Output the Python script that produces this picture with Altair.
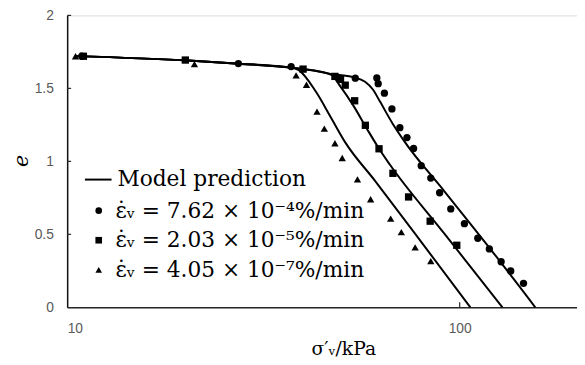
import altair as alt
import pandas as pd

# ---------------- data ----------------
circle_x = [10.9, 27.3, 37.2, 54.2, 61.5, 62.0, 64.3, 67.2, 70.4, 73.4, 76.3, 79.8, 84.4,
            88.9, 94.9, 102.8, 111.2, 119.0, 127.5, 134.9, 145.4]
circle_e = [1.72, 1.67, 1.649, 1.57, 1.571, 1.532, 1.467, 1.359, 1.231, 1.163, 1.088, 0.970,
            0.885, 0.785, 0.674, 0.573, 0.473, 0.400, 0.312, 0.249, 0.164]

square_x = [11.0, 20.0, 39.9, 48.1, 49.7, 51.1, 54.0, 57.5, 62.3, 67.6, 74.1, 84.1, 98.3]
square_e = [1.72, 1.694, 1.632, 1.582, 1.562, 1.522, 1.415, 1.247, 1.086, 0.918, 0.756, 0.590, 0.425]

triangle_x = [10.5, 21.1, 38.3, 40.7, 43.3, 45.2, 48.1, 50.2, 54.9, 59.3, 66.7, 71.0, 77.0, 84.4]
triangle_e = [1.72, 1.666, 1.589, 1.525, 1.341, 1.224, 1.124, 1.023, 0.876, 0.740, 0.607, 0.515,
              0.410, 0.316]

model_low_x = [10.5, 19.9, 27.4, 37.2, 38.9, 43.0, 46.9, 51.1, 60.8, 81.2, 106.4]
model_low_e = [1.721, 1.692, 1.669, 1.642, 1.625, 1.478, 1.304, 1.130, 0.868, 0.421, 0.0]

model_mid_x = [10.5, 19.9, 27.4, 37.2, 42.5, 47.1, 49.7, 53.5, 58.0, 62.2, 66.3, 91.2, 128.5]
model_mid_e = [1.721, 1.692, 1.669, 1.642, 1.622, 1.592, 1.512, 1.385, 1.224, 1.090, 0.980,
               0.508, 0.0]

model_high_x = [10.5, 19.9, 27.4, 37.2, 42.5, 46.9, 53.5, 57.4, 60.1, 62.6, 67.5, 72.3, 91.2,
                121.7, 155.8]
model_high_e = [1.721, 1.692, 1.669, 1.642, 1.622, 1.599, 1.577, 1.545, 1.492, 1.411, 1.258,
                1.137, 0.798, 0.375, 0.0]

model_label = ["Model prediction"]
series_labels = [
    "ε̇ᵥ = 7.62 × 10⁻⁴%/min",
    "ε̇ᵥ = 2.03 × 10⁻⁵%/min",
    "ε̇ᵥ = 4.05 × 10⁻⁷%/min",
]
series_shapes = ["circle", "square", "triangle-up"]

x_tick_values = [10, 100]
y_tick_values = [0, 0.5, 1, 1.5, 2]
x_domain = [10, 199]
y_domain = [0, 2]

# ---------------- tables ----------------
pts = pd.concat([
    pd.DataFrame({"x": circle_x, "e": circle_e, "series": series_labels[0]}),
    pd.DataFrame({"x": square_x, "e": square_e, "series": series_labels[1]}),
    pd.DataFrame({"x": triangle_x, "e": triangle_e, "series": series_labels[2]}),
], ignore_index=True)

model = pd.concat([
    pd.DataFrame({"x": model_low_x, "e": model_low_e, "curve": "low"}),
    pd.DataFrame({"x": model_mid_x, "e": model_mid_e, "curve": "mid"}),
    pd.DataFrame({"x": model_high_x, "e": model_high_e, "curve": "high"}),
], ignore_index=True)
model["kind"] = model_label[0]

W, H = 517, 296

xscale = alt.Scale(type="log", domain=x_domain, nice=False)
yscale = alt.Scale(domain=y_domain, nice=False, zero=False)

xaxis = alt.Axis(values=x_tick_values, format="~g", ticks=False, grid=False,
                 domainColor="#262626", domainWidth=1.5,
                 labelFont="Liberation Sans", labelFontSize=14, labelColor="#595959",
                 labelPadding=15,
                 title="σ′ᵥ/kPa", titleFont="DejaVu Serif", titleFontSize=19,
                 titleFontWeight="normal", titleColor="black",
                 titleX=280, titleY=33)
yaxis = alt.Axis(values=y_tick_values, format="~g", ticks=False, grid=False,
                 domainColor="#111111", domainWidth=1.5,
                 labelFont="Liberation Sans", labelFontSize=14, labelColor="#595959",
                 labelPadding=14,
                 title="e", titleFont="DejaVu Serif", titleFontSize=21,
                 titleFontStyle="italic", titleFontWeight="normal", titleColor="black",
                 titleAngle=270, titleBaseline="middle", titleAlign="center",
                 titleX=-46, titleY=147)

legend_common = dict(title=None, orient="none", labelFont="DejaVu Serif", labelFontSize=22,
                     labelColor="black", labelLimit=0, padding=0)

lines = alt.Chart(model).mark_line(strokeWidth=2, interpolate="monotone").encode(
    x=alt.X("x:Q", scale=xscale, axis=xaxis),
    y=alt.Y("e:Q", scale=yscale, axis=yaxis),
    detail="curve:N",
    color=alt.Color("kind:N", scale=alt.Scale(domain=model_label, range=["black"]),
                    legend=alt.Legend(legendX=17, legendY=152, symbolType="stroke",
                                      symbolSize=729, symbolStrokeWidth=2,
                                      symbolStrokeColor="black", labelOffset=5,
                                      **legend_common)),
)

points = alt.Chart(pts).mark_point(filled=True, color="black", opacity=1, size=55).encode(
    x=alt.X("x:Q", scale=xscale, axis=xaxis),
    y=alt.Y("e:Q", scale=yscale, axis=yaxis),
    shape=alt.Shape("series:N", scale=alt.Scale(domain=series_labels, range=series_shapes),
                    legend=alt.Legend(legendX=21, legendY=187, symbolSize=45,
                                      symbolFillColor="black", symbolStrokeWidth=0,
                                      rowPadding=8, labelOffset=6, **legend_common)),
)

ytick_df = pd.DataFrame({"v": y_tick_values[1:]})
xtick_df = pd.DataFrame({"v": x_tick_values[1:]})

yticks = alt.Chart(ytick_df).mark_rule(color="#262626", strokeWidth=1.2).encode(
    y=alt.Y("v:Q", scale=yscale, axis=yaxis),
    x=alt.value(0), x2=alt.value(4),
)
xticks = alt.Chart(xtick_df).mark_rule(color="#262626", strokeWidth=1.2).encode(
    x=alt.X("v:Q", scale=xscale, axis=xaxis),
    y=alt.value(H), y2=alt.value(H - 5),
)

chart = alt.layer(lines, points, yticks, xticks).properties(
    width=W, height=H,
    autosize=alt.AutoSizeParams(type="none"),
    padding={"left": 60, "top": 5, "right": 0, "bottom": 54},
).configure_view(stroke=None).configure(background="white")

chart.save("out.html", embed_options={"renderer": "svg", "actions": False})
